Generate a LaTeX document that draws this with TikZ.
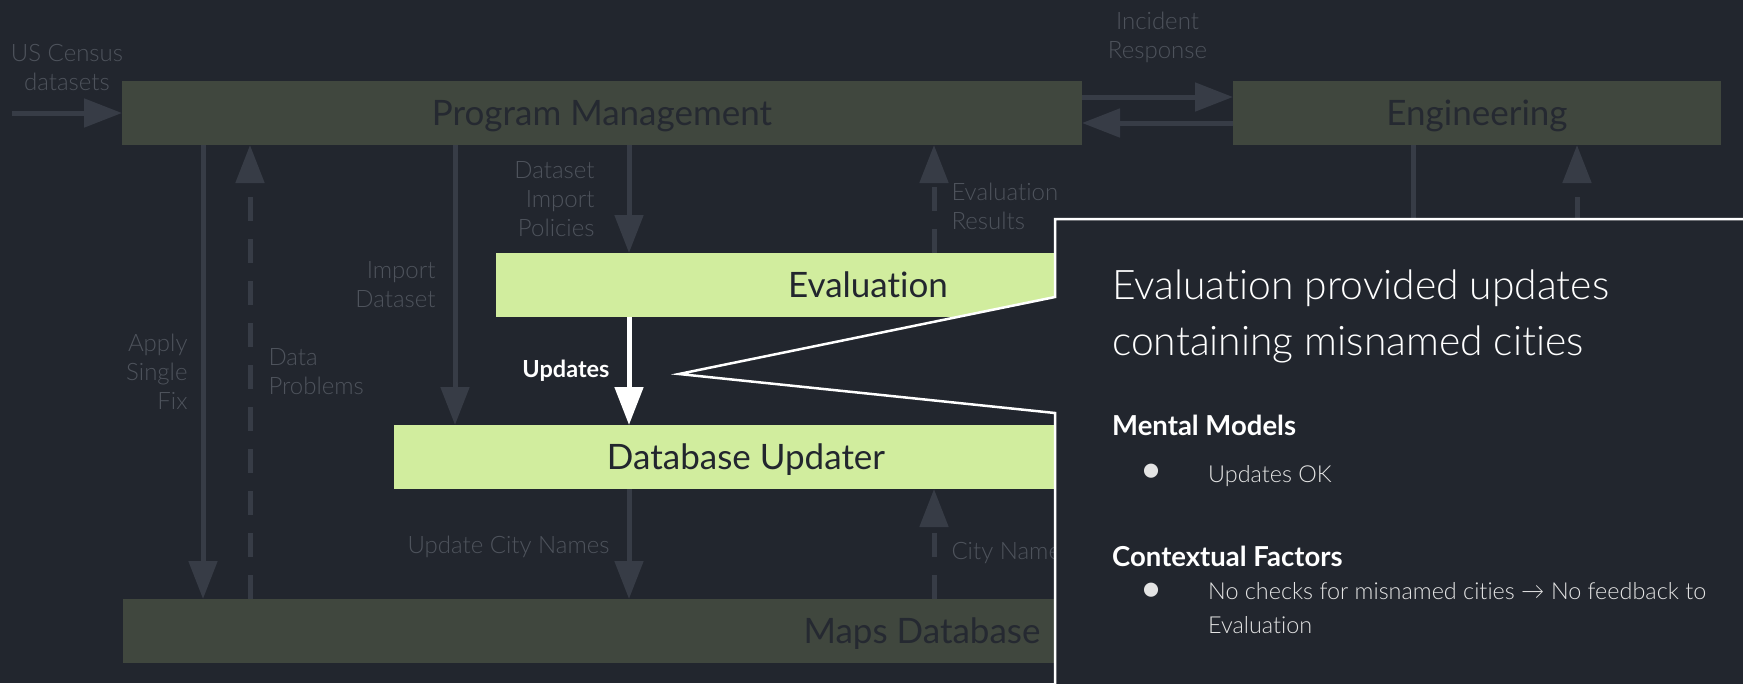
\documentclass[tikz,border=0pt]{standalone}
\usepackage{fontspec}
\setmainfont{Lato}[Ligatures=NoCommon]
\newfontfamily\lightfont{Lato Light}[Ligatures=NoCommon]
\usepackage{tikz}
\usetikzlibrary{arrows.meta, positioning, calc}

\definecolor{canvas}{RGB}{34,38,46}
\definecolor{darkgreen}{RGB}{64,71,62}
\definecolor{palegreen}{RGB}{209,237,158}
\definecolor{wire}{RGB}{55,60,70}
\definecolor{faded}{RGB}{78,83,92}
\definecolor{boxtext}{RGB}{37,41,49}
\definecolor{softwhite}{RGB}{228,228,228}

\begin{document}
\begin{tikzpicture}[x=1pt, y=-1pt]
  \tikzset{
    darkbox/.style={fill=darkgreen, text=boxtext, inner sep=0pt, outer sep=0pt, minimum height=64pt, text height=25pt, text depth=0pt, font=\fontsize{35}{40}\selectfont},
    lightbox/.style={darkbox, fill=palegreen, text=canvas},
    flow/.style={draw=wire, line width=5pt, -{Triangle[length=38pt, width=28pt]}},
    feedback/.style={flow, dash pattern=on 24pt off 18pt},
    updflow/.style={flow, draw=white},
    label/.style={text=faded, inner sep=0pt, font=\lightfont\fontsize{24}{29}\selectfont},
    callout/.style={fill=canvas, draw=white, line width=2.5pt},
    heading/.style={text=white, inner sep=0pt, anchor=base west, font=\bfseries\fontsize{27.5}{32}\selectfont},
    item/.style={text=softwhite, inner sep=0pt, anchor=base west, align=left, font=\lightfont\fontsize{23.4}{34}\selectfont},
    dot/.style={text=softwhite, inner sep=0pt, font=\fontsize{38}{40}\selectfont}
  }

  % Canvas
  \fill[canvas] (0,0) rectangle (1743,683);
  \clip (0,0) rectangle (1743,683);

  % Control structure boxes
  \node[darkbox, minimum width=960pt] (pm) at (602,113) {Program Management};
  \node[darkbox, minimum width=488pt] (eng) at (1477,113) {Engineering};
  \node[lightbox, minimum width=744pt] (eval) at (868,285) {Evaluation};
  \node[lightbox, minimum width=704pt] (dbu) at (746,457) {Database Updater};
  \node[darkbox, minimum width=1598pt] (maps) at (922,631) {Maps Database};

  % Columns for the vertical channels
  \coordinate (CensusIn) at (12,113);
  \coordinate (FixX) at (203,0);
  \coordinate (ProbX) at (250,0);
  \coordinate (ImportX) at (455,0);
  \coordinate (PolicyX) at (629,0);
  \coordinate (ResultX) at (934,0);
  \coordinate (EngDownX) at (1413,0);
  \coordinate (EngUpX) at (1577,0);

  % Inputs and the Engineering link
  \draw[flow] (CensusIn) -- node[label, above=20pt, align=center] {US Census\\datasets} (pm.west);
  \draw[flow] ([yshift=16pt]pm.east) -- node[label, above=32pt, align=center] {Incident\\Response} ([yshift=16pt]eng.west);
  \draw[flow] ([yshift=-10pt]eng.west) -- ([yshift=-10pt]pm.east);

  % Program Management down to the database
  \draw[flow] (pm.south -| FixX) -- node[label, left=13pt, align=right] {Apply\\Single\\Fix} (maps.north -| FixX);
  \draw[feedback] (maps.north -| ProbX) -- node[label, right=16pt, align=left] {Data\\Problems} (pm.south -| ProbX);
  \draw[flow] (pm.south -| ImportX) -- node[label, left=17pt, align=right] {Import\\Dataset} (dbu.north -| ImportX);
  \draw[flow] (pm.south -| PolicyX) -- node[label, left=32pt, align=right] {Dataset\\Import\\Policies} (eval.north -| PolicyX);
  \draw[feedback] (eval.north -| ResultX) -- node[label, right=15pt, yshift=-7pt, align=left] {Evaluation\\Results} (pm.south -| ResultX);

  % Updater loop
  \draw[updflow] (eval.south -| PolicyX) -- node[left=17pt, inner sep=0pt, text=white, font=\bfseries\fontsize{23.5}{26}\selectfont] {Updates} (dbu.north -| PolicyX);
  \draw[flow] (dbu.south -| PolicyX) -- node[label, left=17pt, yshift=-3pt] {Update City Names} (maps.north -| PolicyX);
  \draw[feedback] (maps.north -| ResultX) -- node[label, right=15pt, yshift=-9pt] {City Names} (dbu.south -| ResultX);

  % Engineering down to the database
  \draw[flow] (eng.south -| EngDownX) -- (maps.north -| EngDownX);
  \draw[feedback] (maps.north -| EngUpX) -- (eng.south -| EngUpX);

  % Callout
  \coordinate (PointerTip) at (679,374);
  \coordinate (CalloutNW) at (1055,219);
  \draw[callout] (1055,297) -- (PointerTip) -- (1055,413) -- (1055,720) -- (1780,720) -- (1780,219) -- (CalloutNW) -- cycle;

  \node[text=white, inner sep=0pt, anchor=north west, align=left, font=\lightfont\fontsize{40.8}{56}\selectfont] (title) at (1112,270) {Evaluation provided updates\\containing misnamed cities};
  \node[heading] (mental) at (1112,435) {Mental Models};
  \node[dot] (bulletA) at (1152,473) {•};
  \node[item] (okText) at (1208,482) {Updates OK};
  \node[heading] (context) at (1112,566) {Contextual Factors};
  \node[dot] (bulletB) at (1152,592) {•};
  \node[item] (checkText) at (1208,633) {No checks for misnamed cities → No feedback to\\Evaluation};
\end{tikzpicture}
\end{document}
